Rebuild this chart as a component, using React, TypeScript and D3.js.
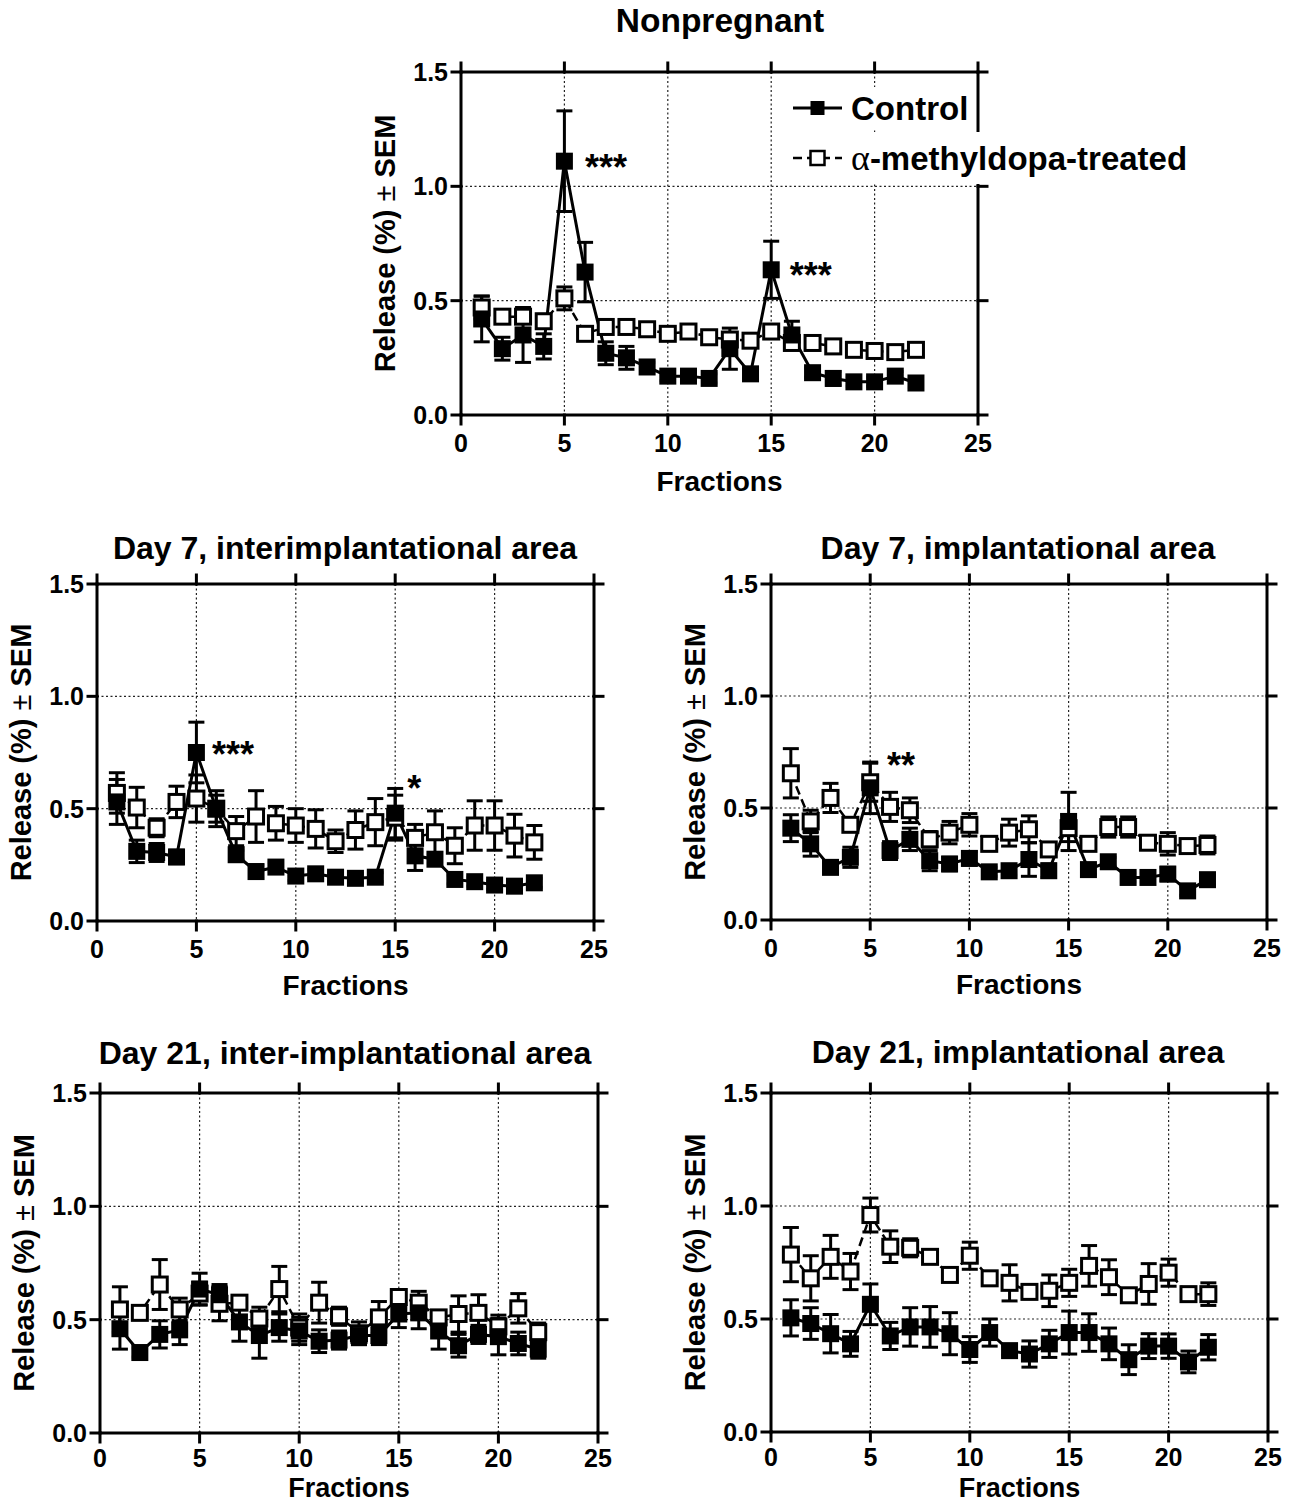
import React from "react";
import * as d3 from "d3";

// Fraction numbers shared by every panel
const FRACTIONS = [1, 2, 3, 4, 5, 6, 7, 8, 9, 10, 11, 12, 13, 14, 15, 16, 17, 18, 19, 20, 21, 22];
const X_TICKS = [0, 5, 10, 15, 20, 25];
const Y_TICKS = [0, 0.5, 1.0, 1.5];
const X_GRID = [5, 10, 15, 20];
const Y_GRID = [0.5, 1.0];

// Nonpregnant
const NP_CONTROL = [0.42, 0.29, 0.35, 0.30, 1.11, 0.625, 0.27, 0.25, 0.21, 0.17, 0.17, 0.16, 0.29, 0.18, 0.635, 0.35, 0.185, 0.16, 0.145, 0.145, 0.17, 0.14];
const NP_CONTROL_SEM = [0.10, 0.05, 0.12, 0.055, 0.22, 0.13, 0.05, 0.05, 0.02, 0.02, 0.02, 0.02, 0.09, 0.02, 0.125, 0.06, 0.02, 0.03, 0.02, 0.02, 0.02, 0.02];
const NP_TREATED = [0.47, 0.43, 0.43, 0.41, 0.51, 0.355, 0.385, 0.385, 0.375, 0.355, 0.365, 0.34, 0.33, 0.325, 0.365, 0.315, 0.315, 0.30, 0.285, 0.28, 0.275, 0.285];
const NP_TREATED_SEM = [0.05, 0.02, 0.03, 0.03, 0.05, 0.02, 0.02, 0.02, 0.02, 0.02, 0.02, 0.02, 0.02, 0.02, 0.02, 0.02, 0.02, 0.02, 0.02, 0.02, 0.02, 0.02];

// Day 7, interimplantational area
const D7I_CONTROL = [0.53, 0.31, 0.305, 0.285, 0.75, 0.50, 0.295, 0.22, 0.24, 0.20, 0.21, 0.195, 0.19, 0.195, 0.48, 0.29, 0.275, 0.185, 0.175, 0.16, 0.155, 0.17];
const D7I_CONTROL_SEM = [0.10, 0.05, 0.04, 0.03, 0.135, 0.08, 0.02, 0.03, 0.02, 0.02, 0.02, 0.02, 0.02, 0.02, 0.11, 0.065, 0.02, 0.02, 0.02, 0.02, 0.02, 0.02];
const D7I_TREATED = [0.57, 0.505, 0.415, 0.53, 0.545, 0.50, 0.40, 0.465, 0.435, 0.425, 0.41, 0.355, 0.405, 0.44, 0.46, 0.37, 0.395, 0.335, 0.425, 0.425, 0.38, 0.35];
const D7I_TREATED_SEM = [0.09, 0.09, 0.04, 0.07, 0.105, 0.06, 0.065, 0.115, 0.075, 0.075, 0.085, 0.05, 0.085, 0.105, 0.10, 0.06, 0.095, 0.08, 0.11, 0.11, 0.095, 0.075];

// Day 7, implantational area
const D7_CONTROL = [0.41, 0.34, 0.235, 0.28, 0.59, 0.31, 0.36, 0.265, 0.25, 0.275, 0.215, 0.22, 0.27, 0.22, 0.44, 0.225, 0.26, 0.19, 0.19, 0.205, 0.13, 0.18];
const D7_CONTROL_SEM = [0.06, 0.055, 0.02, 0.045, 0.115, 0.04, 0.05, 0.045, 0.03, 0.03, 0.02, 0.02, 0.075, 0.03, 0.13, 0.02, 0.02, 0.02, 0.02, 0.03, 0.02, 0.02];
const D7_TREATED = [0.655, 0.44, 0.545, 0.425, 0.615, 0.505, 0.49, 0.36, 0.39, 0.425, 0.34, 0.39, 0.405, 0.315, 0.41, 0.34, 0.415, 0.415, 0.345, 0.34, 0.33, 0.335];
const D7_TREATED_SEM = [0.11, 0.05, 0.065, 0.03, 0.085, 0.065, 0.055, 0.035, 0.05, 0.05, 0.03, 0.06, 0.06, 0.03, 0.06, 0.02, 0.045, 0.045, 0.03, 0.05, 0.03, 0.04];

// Day 21, inter-implantational area
const D21I_CONTROL = [0.46, 0.355, 0.435, 0.455, 0.635, 0.61, 0.49, 0.43, 0.465, 0.45, 0.405, 0.41, 0.43, 0.43, 0.525, 0.53, 0.45, 0.385, 0.435, 0.425, 0.395, 0.37];
const D21I_CONTROL_SEM = [0.09, 0.02, 0.06, 0.065, 0.07, 0.045, 0.085, 0.10, 0.06, 0.06, 0.05, 0.04, 0.04, 0.04, 0.06, 0.07, 0.08, 0.05, 0.04, 0.08, 0.05, 0.04];
const D21I_TREATED = [0.545, 0.53, 0.655, 0.545, 0.615, 0.57, 0.575, 0.505, 0.635, 0.465, 0.575, 0.515, 0.44, 0.51, 0.60, 0.575, 0.51, 0.525, 0.53, 0.47, 0.55, 0.445];
const D21I_TREATED_SEM = [0.10, 0.02, 0.11, 0.05, 0.05, 0.075, 0.02, 0.05, 0.10, 0.06, 0.09, 0.04, 0.05, 0.07, 0.03, 0.05, 0.03, 0.08, 0.08, 0.05, 0.065, 0.04];

// Day 21, implantational area
const D21_CONTROL = [0.505, 0.48, 0.435, 0.39, 0.565, 0.425, 0.465, 0.465, 0.435, 0.365, 0.44, 0.36, 0.345, 0.39, 0.44, 0.44, 0.39, 0.32, 0.38, 0.38, 0.31, 0.375];
const D21_CONTROL_SEM = [0.08, 0.07, 0.085, 0.055, 0.09, 0.06, 0.085, 0.09, 0.093, 0.057, 0.06, 0.02, 0.058, 0.06, 0.095, 0.083, 0.07, 0.066, 0.055, 0.054, 0.048, 0.056];
const D21_TREATED = [0.785, 0.68, 0.775, 0.71, 0.96, 0.82, 0.815, 0.775, 0.695, 0.78, 0.68, 0.66, 0.62, 0.625, 0.66, 0.735, 0.685, 0.605, 0.655, 0.705, 0.61, 0.61];
const D21_TREATED_SEM = [0.12, 0.10, 0.095, 0.08, 0.075, 0.07, 0.04, 0.02, 0.02, 0.06, 0.02, 0.08, 0.01, 0.07, 0.06, 0.09, 0.077, 0.02, 0.09, 0.06, 0.02, 0.05];

const SERIES_NAMES = ["Control", "-methyldopa-treated"];

const FONT = "'Liberation Sans', Arial, Helvetica, sans-serif";

type Note = { x: number; y: number; text: string };
type PanelCfg = {
  title: string;
  control: number[];
  controlSem: number[];
  treated: number[];
  treatedSem: number[];
  notes: Note[];
  left: number;
  right: number;
  top: number;
  bottom: number;
  titleX: number;
  titleY: number;
  titleSize: number;
  tickGap: number;
  xLabelGap: number;
  xLabelSize: number;
  legend?: boolean;
};

const PANELS: PanelCfg[] = [
  {
    title: "Nonpregnant",
    control: NP_CONTROL, controlSem: NP_CONTROL_SEM, treated: NP_TREATED, treatedSem: NP_TREATED_SEM,
    notes: [{ x: 6.0, y: 1.12, text: "***" }, { x: 15.9, y: 0.65, text: "***" }],
    left: 461, right: 978, top: 72, bottom: 415, titleX: 720, titleY: 20, titleSize: 33.5,
    tickGap: 28, xLabelGap: 66, xLabelSize: 28, legend: true,
  },
  {
    title: "Day 7, interimplantational area",
    control: D7I_CONTROL, controlSem: D7I_CONTROL_SEM, treated: D7I_TREATED, treatedSem: D7I_TREATED_SEM,
    notes: [{ x: 5.78, y: 0.78, text: "***" }, { x: 15.6, y: 0.63, text: "*" }],
    left: 97, right: 594, top: 584, bottom: 921, titleX: 345, titleY: 548, titleSize: 32,
    tickGap: 28, xLabelGap: 64, xLabelSize: 28,
  },
  {
    title: "Day 7, implantational area",
    control: D7_CONTROL, controlSem: D7_CONTROL_SEM, treated: D7_TREATED, treatedSem: D7_TREATED_SEM,
    notes: [{ x: 5.85, y: 0.73, text: "**" }],
    left: 771, right: 1267, top: 584, bottom: 920, titleX: 1018, titleY: 548, titleSize: 32,
    tickGap: 28, xLabelGap: 64, xLabelSize: 28,
  },
  {
    title: "Day 21, inter-implantational area",
    control: D21I_CONTROL, controlSem: D21I_CONTROL_SEM, treated: D21I_TREATED, treatedSem: D21I_TREATED_SEM,
    notes: [],
    left: 100, right: 598, top: 1093, bottom: 1433, titleX: 345, titleY: 1053, titleSize: 32,
    tickGap: 25, xLabelGap: 54.5, xLabelSize: 27,
  },
  {
    title: "Day 21, implantational area",
    control: D21_CONTROL, controlSem: D21_CONTROL_SEM, treated: D21_TREATED, treatedSem: D21_TREATED_SEM,
    notes: [],
    left: 771, right: 1268, top: 1093, bottom: 1432, titleX: 1018, titleY: 1052, titleSize: 32,
    tickGap: 25, xLabelGap: 55.5, xLabelSize: 27,
  },
];

const TICK = 9;
const AXIS_W = 3;
const NOTE_SIZE = 36;

function ErrorBars({ values, sems, x, y }: { values: number[]; sems: number[]; x: any; y: any }) {
  return (
    <g stroke="#000" strokeWidth={3}>
      {values.map((v, i) => {
        const cx = x(FRACTIONS[i]);
        const y0 = y(v - sems[i]);
        const y1 = y(v + sems[i]);
        return (
          <g key={i}>
            <line x1={cx} x2={cx} y1={y0} y2={y1} />
            <line x1={cx - 8} x2={cx + 8} y1={y0} y2={y0} />
            <line x1={cx - 8} x2={cx + 8} y1={y1} y2={y1} />
          </g>
        );
      })}
    </g>
  );
}

function Panel({ cfg }: { cfg: PanelCfg }) {
  const x = d3.scaleLinear().domain([0, 25]).range([cfg.left, cfg.right]);
  const y = d3.scaleLinear().domain([0, 1.5]).range([cfg.bottom, cfg.top]);
  const line = d3
    .line<number>()
    .x((_, i) => x(FRACTIONS[i]))
    .y((d) => y(d));

  const midX = (cfg.left + cfg.right) / 2;
  const midY = (cfg.top + cfg.bottom) / 2;
  const ylabX = cfg.left - 76;

  return (
    <g>
      {/* dotted grid */}
      <g stroke="#222" strokeWidth={1.2} strokeDasharray="2,2.5">
        {X_GRID.map((t) => (
          <line key={"gx" + t} x1={x(t)} x2={x(t)} y1={y(1.5)} y2={y(0)} />
        ))}
        {Y_GRID.map((t) => (
          <line key={"gy" + t} x1={x(0)} x2={x(25)} y1={y(t)} y2={y(t)} />
        ))}
      </g>

      {/* frame with outward ticks on all four sides */}
      <g stroke="#000" strokeWidth={AXIS_W} strokeLinecap="square">
        <rect x={x(0)} y={y(1.5)} width={x(25) - x(0)} height={y(0) - y(1.5)} fill="none" />
        {X_TICKS.map((t) => (
          <g key={"tx" + t}>
            <line x1={x(t)} x2={x(t)} y1={y(0)} y2={y(0) + TICK} />
            <line x1={x(t)} x2={x(t)} y1={y(1.5)} y2={y(1.5) - TICK} />
          </g>
        ))}
        {Y_TICKS.map((t) => (
          <g key={"ty" + t}>
            <line x1={x(0)} x2={x(0) - TICK} y1={y(t)} y2={y(t)} />
            <line x1={x(25)} x2={x(25) + TICK} y1={y(t)} y2={y(t)} />
          </g>
        ))}
      </g>

      {/* tick labels */}
      <g fontFamily={FONT} fontWeight="bold" fontSize={25} fill="#000">
        {X_TICKS.map((t) => (
          <text key={"lx" + t} x={x(t)} y={cfg.bottom + cfg.tickGap} textAnchor="middle" dominantBaseline="central">
            {t}
          </text>
        ))}
        {Y_TICKS.map((t) => (
          <text key={"ly" + t} x={cfg.left - 13} y={y(t)} textAnchor="end" dominantBaseline="central">
            {d3.format(".1f")(t)}
          </text>
        ))}
      </g>

      {/* axis titles */}
      <text x={midX} y={cfg.bottom + cfg.xLabelGap} textAnchor="middle" dominantBaseline="central"
        fontFamily={FONT} fontWeight="bold" fontSize={cfg.xLabelSize}>
        Fractions
      </text>
      <text transform={`translate(${ylabX},${midY}) rotate(-90)`} textAnchor="middle" dominantBaseline="central"
        fontFamily={FONT} fontWeight="bold" fontSize={29}>
        Release (%) <tspan fontWeight="normal">±</tspan> SEM
      </text>
      <text x={cfg.titleX} y={cfg.titleY} textAnchor="middle" dominantBaseline="central"
        fontFamily={FONT} fontWeight="bold" fontSize={cfg.titleSize}>
        {cfg.title}
      </text>

      {/* α-methyldopa-treated series (dashed, open squares) */}
      <path d={line(cfg.treated) || ""} fill="none" stroke="#000" strokeWidth={2.5} strokeDasharray="9,5" />
      <ErrorBars values={cfg.treated} sems={cfg.treatedSem} x={x} y={y} />

      {/* control series (solid, filled squares) */}
      <path d={line(cfg.control) || ""} fill="none" stroke="#000" strokeWidth={3} />
      <ErrorBars values={cfg.control} sems={cfg.controlSem} x={x} y={y} />

      {cfg.treated.map((v, i) => (
        <rect key={"ot" + i} x={x(FRACTIONS[i]) - 7.5} y={y(v) - 7.5} width={15} height={15}
          fill="#fff" stroke="#000" strokeWidth={3} />
      ))}
      {cfg.control.map((v, i) => (
        <rect key={"fc" + i} x={x(FRACTIONS[i]) - 8.5} y={y(v) - 8.5} width={17} height={17} fill="#000" />
      ))}

      {/* significance marks */}
      {cfg.notes.map((n, i) => (
        <text key={"n" + i} x={x(n.x)} y={y(n.y) + NOTE_SIZE * 0.6} fontFamily={FONT} fontWeight="bold"
          fontSize={NOTE_SIZE}>
          {n.text}
        </text>
      ))}

      {cfg.legend && <Legend />}
    </g>
  );
}

function Legend() {
  const lx0 = 793;
  const lx1 = 842;
  const tx = 851;
  const r1 = 108;
  const r2 = 158;
  return (
    <g>
      <rect x={788} y={87} width={184} height={43} fill="#fff" />
      <rect x={788} y={132} width={408} height={52} fill="#fff" />
      <line x1={lx0} x2={lx1} y1={r1} y2={r1} stroke="#000" strokeWidth={3} />
      <rect x={(lx0 + lx1) / 2 - 7} y={r1 - 7} width={14} height={14} fill="#000" />
      <text x={tx} y={r1} dominantBaseline="central" fontFamily={FONT} fontWeight="bold" fontSize={33}>
        {SERIES_NAMES[0]}
      </text>
      <line x1={lx0} x2={lx1} y1={r2} y2={r2} stroke="#000" strokeWidth={2.5} strokeDasharray="9,5" />
      <rect x={(lx0 + lx1) / 2 - 7} y={r2 - 7} width={14} height={14} fill="#fff" stroke="#000" strokeWidth={2.5} />
      <text x={tx} y={r2} dominantBaseline="central" fontFamily={FONT} fontWeight="bold" fontSize={33}>
        <tspan fontFamily="'Liberation Serif', 'DejaVu Serif', serif" fontWeight="normal" fontSize={36}>α</tspan>
        {SERIES_NAMES[1]}
      </text>
    </g>
  );
}

export default function App() {
  return (
    <svg width={1295} height={1503} viewBox="0 0 1295 1503"
      style={{ position: "absolute", left: 0, top: 0, background: "#fff" }}>
      <rect x={0} y={0} width={1295} height={1503} fill="#fff" />
      {PANELS.map((p, i) => (
        <Panel key={i} cfg={p} />
      ))}
    </svg>
  );
}
